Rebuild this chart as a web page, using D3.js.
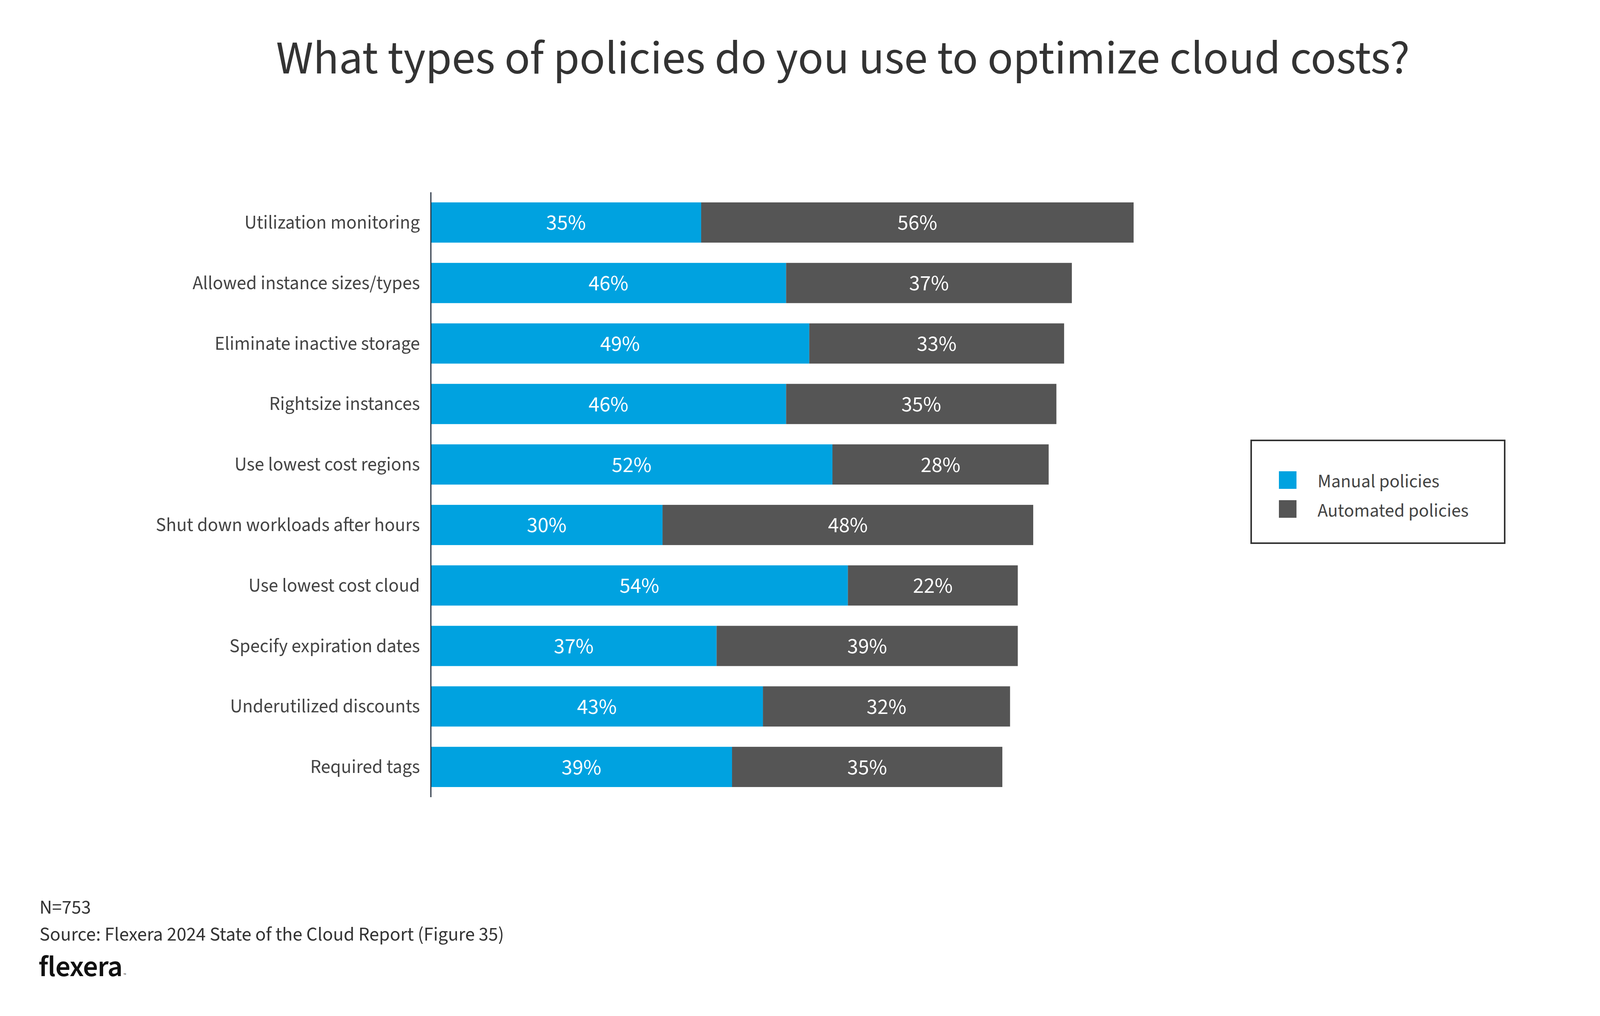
<!DOCTYPE html>
<html>
<head>
<meta charset="utf-8">
<script src="https://cdn.jsdelivr.net/npm/d3@7"></script>
<style>
  body { margin: 0; background: #fff; }
  text { font-family: "Source Sans Pro", "Source Sans 3", Lato, "Noto Sans", sans-serif; }
</style>
</head>
<body>
<svg id="chart"></svg>
<script>
const width = 4362;
const height = 2600;

// chart values
const categories = [
    "Utilization monitoring",
    "Allowed instance sizes/types",
    "Eliminate inactive storage",
    "Rightsize instances",
    "Use lowest cost regions",
    "Shut down workloads after hours",
    "Use lowest cost cloud",
    "Specify expiration dates",
    "Underutilized discounts",
    "Required tags"
];
const manual = [35, 46, 49, 46, 52, 30, 54, 37, 43, 39];
const automated = [56, 37, 33, 35, 28, 48, 22, 39, 32, 35];
const seriesNames = ["Manual policies", "Automated policies"];
const seriesColors = ["#00a2e0", "#555555"];
const titleText = "What types of policies do you use to optimize cloud costs?";
const footNotes = ["N=753", "Source: Flexera 2024 State of the Cloud Report (Figure 35)"];

const svg = d3.select("#chart")
    .attr("width", width)
    .attr("height", height);

// build rows for the stack
var rows = categories.map(function(c, i) {
    return { category: c, manual: manual[i], automated: automated[i] };
});
var stack = d3.stack().keys(["manual", "automated"]);
var stacked = stack(rows);

var x = d3.scaleLinear().domain([0, 100]).range([1103, 3080]);
var y = d3.scaleBand()
    .domain(categories)
    .range([492, 2040])
    .paddingInner(0.335)
    .paddingOuter(0.1675);

// title
svg.append("text")
    .attr("x", 2158)
    .attr("y", 188)
    .attr("text-anchor", "middle")
    .attr("font-size", 121)
    .attr("fill", "#333333")
    .text(titleText);

// bars
var layer = svg.selectAll(".layer")
    .data(stacked)
    .enter().append("g")
    .attr("class", "layer")
    .attr("fill", function(d, i) { return seriesColors[i]; });

layer.selectAll("rect")
    .data(function(d) { return d; })
    .enter().append("rect")
    .attr("x", function(d) { return x(d[0]); })
    .attr("y", function(d) { return y(d.data.category); })
    .attr("width", function(d) { return x(d[1]) - x(d[0]); })
    .attr("height", y.bandwidth());

// value labels inside segments
layer.selectAll(".value")
    .data(function(d) { return d; })
    .enter().append("text")
    .attr("class", "value")
    .attr("x", function(d) { return (x(d[0]) + x(d[1])) / 2; })
    .attr("y", function(d) { return y(d.data.category) + y.bandwidth() / 2; })
    .attr("dy", "0.34em")
    .attr("text-anchor", "middle")
    .attr("font-size", 56)
    .attr("fill", "#ffffff")
    .text(function(d) { return (d[1] - d[0]) + "%"; });

// category axis
var yAxis = svg.append("g")
    .attr("transform", "translate(" + x(0) + ",0)")
    .call(d3.axisLeft(y).tickSize(0).tickPadding(28));
yAxis.select(".domain")
    .attr("stroke", "#2b3645")
    .attr("stroke-width", 3)
    .attr("d", "M0,492V2040");
yAxis.selectAll(".tick text")
    .attr("font-size", 49)
    .attr("fill", "#444444")
    .attr("font-family", null);

// legend
var legend = svg.append("g");
legend.append("rect")
    .attr("x", 3203)
    .attr("y", 1127)
    .attr("width", 649)
    .attr("height", 263)
    .attr("fill", "none")
    .attr("stroke", "#333333")
    .attr("stroke-width", 4);
seriesNames.forEach(function(name, i) {
    legend.append("rect")
        .attr("x", 3274)
        .attr("y", 1206 + i * 74)
        .attr("width", 45)
        .attr("height", 45)
        .attr("fill", seriesColors[i]);
    legend.append("text")
        .attr("x", 3373)
        .attr("y", 1247 + i * 75)
        .attr("font-size", 48)
        .attr("fill", "#444444")
        .text(name);
});

// footer notes
footNotes.forEach(function(t, i) {
    svg.append("text")
        .attr("x", 101)
        .attr("y", 2338 + i * 69)
        .attr("font-size", 50)
        .attr("fill", "#333333")
        .text(t);
});

// flexera wordmark
var logo = svg.append("text")
    .attr("x", 99)
    .attr("y", 2498)
    .attr("font-size", 76)
    .attr("font-weight", 600)
    .attr("fill", "#111111")
    .attr("letter-spacing", -1)
    .text("flexera");
logo.append("tspan")
    .attr("font-size", 10)
    .attr("font-weight", 400)
    .attr("dx", 3)
    .text("™");
</script>
</body>
</html>
